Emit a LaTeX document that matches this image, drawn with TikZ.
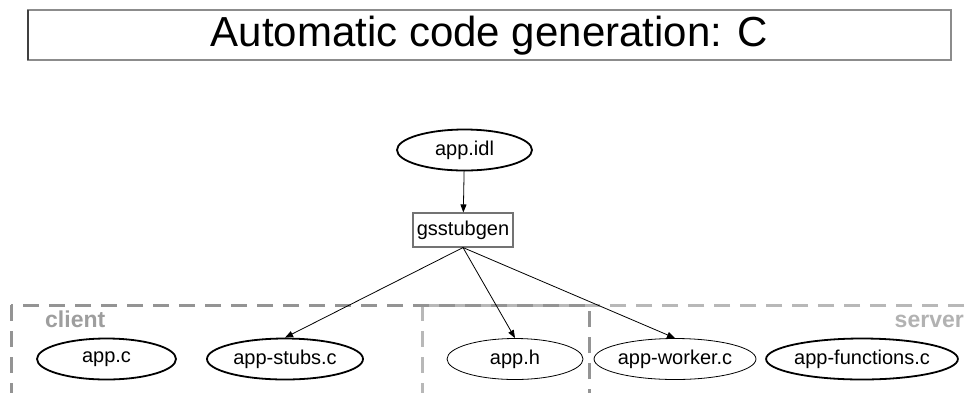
\documentclass[tikz,border=0pt]{standalone}
\usepackage{fontspec}
\setmainfont{Liberation Sans}
\usetikzlibrary{arrows.meta,shapes.geometric}
\begin{document}
\begin{tikzpicture}[x=1pt,y=-1pt,
  file/.style={ellipse,draw=black,inner sep=0pt,minimum height=41pt,
    font=\fontsize{20}{23}\selectfont},
  boldfile/.style={file,line width=1.8pt},
  lightfile/.style={file,line width=0.8pt},
  toolbox/.style={rectangle,draw=black!55,line width=1.1pt,minimum width=100pt,
    minimum height=34pt,inner sep=0pt,font=\fontsize{20}{23}\selectfont},
  genarrow/.style={line width=0.8pt,-{Triangle[length=8pt,width=6pt]}},
  cluster/.style={line width=3pt,dash pattern=on 16pt off 10pt},
  clusterlabel/.style={font=\bfseries\fontsize{23}{26}\selectfont,inner sep=0pt}
]
\useasboundingbox[fill=white] (0,0) rectangle (968,392);

% title banner
\draw[black!45,line width=1.5pt] (28,10) rectangle (951,60);
\draw[black!75,line width=1.5pt] (28,10) -- (28,60);
\node[font=\fontsize{42}{48}\selectfont] (title) at (489.5,36) {Automatic code generation: C};

% client / server groups (they overlap around app.h and run off the page)
\begin{scope}
  \clip (0,0) rectangle (968,392);
  \draw[cluster,draw=black!28] (422,305) rectangle (1010,430);
  \draw[cluster,draw=black!42] (11,305) rectangle (589,430);
\end{scope}
\node[clusterlabel,text=black!38,anchor=base west] (clientlbl) at (45,327) {client};
\node[clusterlabel,text=black!30,anchor=base east] (serverlbl) at (964,327) {server};

% generator
\node[boldfile,minimum width=135pt] (idl) at (464.5,150) {app.idl};
\node[toolbox] (gen) at (463,230) {gsstubgen};

% generated and user files
\node[boldfile,minimum width=139pt] (appc) at (106.5,359) {app.c};
\node[boldfile,minimum width=156pt] (stubs) at (285,359) {app-stubs.c};
\node[lightfile,minimum width=136pt] (apph) at (515,359) {app.h};
\node[lightfile,minimum width=159pt] (worker) at (675,359) {app-worker.c};
\node[boldfile,minimum width=185pt] (funcs) at (862,359) {app-functions.c};

% connectors
\draw[genarrow] (idl) -- (gen);
\draw[genarrow] (gen.south) -- (stubs.north);
\draw[genarrow] (gen.south) -- (apph.north);
\draw[genarrow] (gen.south) -- (worker.north);
\end{tikzpicture}
\end{document}
